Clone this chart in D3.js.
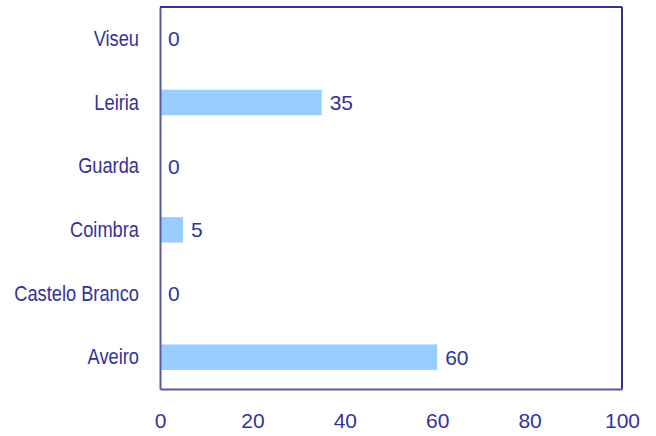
<!DOCTYPE html>
<html lang="en">
	<head>
		<meta charset="utf-8">
		<title>Bar chart</title>
		<script type="text/javascript" src="https://cdn.jsdelivr.net/npm/d3@7"></script>
		<style>
			body { margin: 0; background: #fff; }
			text { fill: #333399; font-family: "Liberation Sans", Arial, sans-serif; }
		</style>
	</head>
	<body>
		<script type="text/javascript">

			// data, bottom to top as drawn
			var categories = ["Aveiro", "Castelo Branco", "Coimbra", "Guarda", "Leiria", "Viseu"];
			var values = [60, 0, 5, 0, 35, 0];
			var xTicks = [0, 20, 40, 60, 80, 100];

			var w = 656;
			var h = 436;
			var margin = {top: 7, right: 34, bottom: 47, left: 160};
			var innerW = w - margin.left - margin.right;
			var innerH = h - margin.top - margin.bottom;

			var svg = d3.select("body")
						.append("svg")
						.attr("width", w)
						.attr("height", h);

			var g = svg.append("g")
						.attr("transform", "translate(" + margin.left + "," + margin.top + ")");

			var xScale = d3.scaleLinear()
							.domain([0, 100])
							.range([0, innerW]);

			// first category at the bottom
			var yScale = d3.scaleBand()
							.domain(categories)
							.range([innerH, 0])
							.paddingInner(0.6)
							.paddingOuter(0.3);

			var data = categories.map(function(c, i) { return {cat: c, val: values[i]}; });

			// bars
			g.selectAll(".bar")
				.data(data)
				.enter()
				.append("rect")
				.attr("class", "bar")
				.attr("x", 0)
				.attr("y", function(d) { return yScale(d.cat); })
				.attr("width", function(d) { return xScale(d.val); })
				.attr("height", yScale.bandwidth())
				.attr("fill", "#99ccff");

			// value labels
			g.selectAll(".val")
				.data(data)
				.enter()
				.append("text")
				.attr("class", "val")
				.attr("x", function(d) { return xScale(d.val) + 8; })
				.attr("y", function(d) { return yScale(d.cat) + yScale.bandwidth() / 2; })
				.attr("dy", "0.36em")
				.style("font-size", "21px")
				.text(function(d) { return d.val; });

			// frame: top/right darker, left/bottom greyer
			g.append("line").attr("x1", 0).attr("x2", innerW).attr("y1", 0).attr("y2", 0)
				.attr("stroke", "#333399").attr("stroke-width", 2);
			g.append("line").attr("x1", innerW).attr("x2", innerW).attr("y1", 0).attr("y2", innerH)
				.attr("stroke", "#333399").attr("stroke-width", 2);

			// x axis
			var xAxis = d3.axisBottom(xScale).tickValues(xTicks).tickSize(0).tickPadding(24);
			var gx = g.append("g")
				.attr("transform", "translate(0," + innerH + ")")
				.call(xAxis);
			gx.select(".domain").attr("stroke", "#5c5c94").attr("stroke-width", 2);
			gx.selectAll("text").style("font-size", "21px").style("fill", "#333399");

			// y axis, labels squeezed horizontally like a narrow face
			var yAxis = d3.axisLeft(yScale).tickSize(0);
			var gy = g.append("g").call(yAxis);
			gy.select(".domain").attr("stroke", "#5c5c94").attr("stroke-width", 2);
			gy.selectAll("text")
				.attr("x", 0)
				.attr("transform", "translate(-21,0) scale(0.83,1)")
				.style("font-size", "22px")
				.style("fill", "#333399");

		</script>
	</body>
</html>
